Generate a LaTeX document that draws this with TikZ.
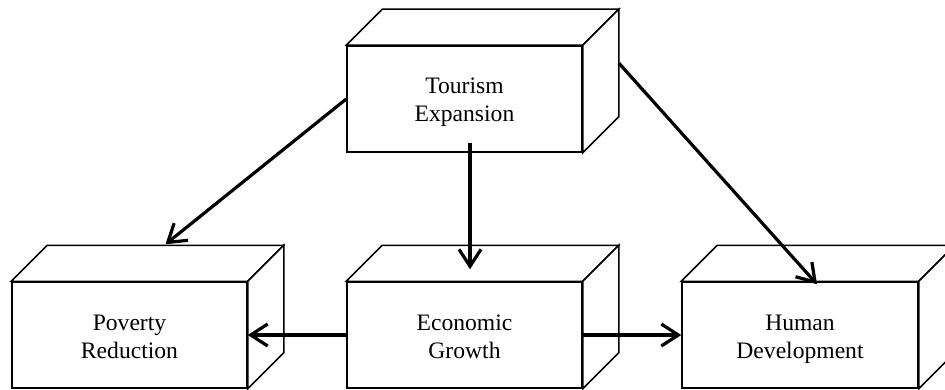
\documentclass[tikz,border=0pt]{standalone}
\usepackage{fontspec}
\setmainfont{Liberation Serif}
\usetikzlibrary{arrows.meta,calc}
\newcommand{\ltop}{\rule{0pt}{26.4pt}}
\newcommand{\lbot}{\rule[-8.4pt]{0pt}{8.4pt}}
\tikzset{
  boxface/.style={draw=black, line width=1.5pt, fill=white, line join=miter},
  frontbox/.style={boxface, rectangle, minimum width=235pt, minimum height=106pt,
    inner sep=0pt, align=center, font=\fontsize{23.6}{28}\selectfont},
  arr/.style={line width=3.2pt, -{Straight Barb[length=17pt, width=22pt, line width=3.2pt]}},
}
\newcommand{\cubeside}[1]{%
  \draw[boxface] (#1.north west) -- ++(36,-36) -- ($(#1.north east)+(36,-36)$) -- (#1.north east) -- cycle;
  \draw[boxface] (#1.north east) -- ++(36,-36) -- ($(#1.south east)+(36,-36)$) -- (#1.south east) -- cycle;
}
\begin{document}
\begin{tikzpicture}[x=1pt, y=-1pt]
\useasboundingbox (0,0) rectangle (945,390);
\node[frontbox] (tour) at (464.5,99) {\ltop Tourism\\Expansion\lbot};
\node[frontbox] (pov) at (129.5,335) {\ltop Poverty\\Reduction\lbot};
\node[frontbox] (econ) at (464.5,335) {\ltop Economic\\Growth\lbot};
\node[frontbox, minimum width=236pt] (hum) at (800,335) {\ltop Human\\Development\lbot};
\cubeside{tour}
\cubeside{pov}
\cubeside{econ}
\cubeside{hum}
\draw[arr] (tour.west) -- ($(pov.north)+(36,-37)$);
\draw[arr] ($(tour.south)+(5.5,-10)$) -- ($(econ.north)+(5.5,-12)$);
\draw[arr] ($(tour.east)+(36,-36)$) -- ($(hum.north)+(17,3)$);
\draw[arr] (econ.west) -- (pov.east);
\draw[arr] (econ.east) -- (hum.west);
\end{tikzpicture}
\end{document}
